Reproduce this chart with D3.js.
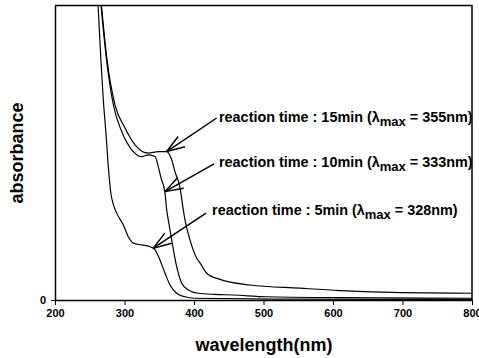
<!DOCTYPE html>
<html lang="en">
<head>
<meta charset="utf-8">
<title>absorbance vs wavelength</title>
<style>
  body { margin: 0; background: #fff; }
  svg text { font-family: "Liberation Sans", Arial, sans-serif; fill: #000; }
  .curve { fill: none; stroke: #000; stroke-width: 1.2px; }
  .frame { fill: none; stroke: #000; stroke-width: 1.5px; }
  .arrow { stroke: #000; stroke-width: 1.5px; fill: none; }
</style>
</head>
<body>
<svg id="chart" width="479" height="358"></svg>
<script src="https://d3js.org/d3.v7.min.js"></script>
<script>

// reaction time 5 min
var wl5  = [262, 266, 269.5, 273.4, 276.7, 280.6, 283.9, 288.8, 298.3, 305.5, 312.7, 324.7, 336.7, 343.9, 351, 358.3, 365.5, 375, 387, 401, 552, 800];
var abs5 = [1.0, 0.816, 0.68, 0.563, 0.453, 0.359, 0.325, 0.295, 0.255, 0.215, 0.193, 0.187, 0.181, 0.170, 0.136, 0.091, 0.051, 0.023, 0.011, 0.006, 0.003, 0.002];

// reaction time 10 min
var wl10  = [266.2, 274.1, 283.9, 296, 310.4, 324.7, 334.2, 343.9, 348.6, 352.5, 358.3, 360.7, 363, 367.9, 375.1, 382.3, 391.8, 406.2, 430.2, 456, 504.6, 610, 800];
var abs10 = [1.0, 0.816, 0.663, 0.572, 0.510, 0.487, 0.493, 0.487, 0.453, 0.415, 0.363, 0.306, 0.272, 0.204, 0.113, 0.057, 0.034, 0.023, 0.019, 0.017, 0.011, 0.008, 0.006];

// reaction time 15 min
var wl15  = [266.9, 274.8, 286.3, 300.7, 315.1, 334.2, 348.6, 360.7, 367.9, 372.7, 379.9, 384.6, 387, 394.2, 403.9, 408.6, 418.3, 437.4, 480.6, 552.5, 610, 698.8, 800];
var abs15 = [1.0, 0.816, 0.663, 0.584, 0.527, 0.499, 0.504, 0.504, 0.476, 0.435, 0.381, 0.306, 0.272, 0.204, 0.142, 0.126, 0.091, 0.070, 0.051, 0.040, 0.032, 0.025, 0.023];

var xTicks = [200, 300, 400, 500, 600, 700, 800];
var yTicks = [0];

var labels = ["reaction time : 15min (\u03bb", "reaction time : 10min (\u03bb", "reaction time : 5min (\u03bb"];
var labelTail = [" = 355nm)", " = 333nm)", " = 328nm)"];

var svg = d3.select("#chart");
var margin = {left: 55, right: 7, top: 5.5, bottom: 58};
var W = 479, H = 358;

var x = d3.scaleLinear().domain([200, 800]).range([margin.left, W - margin.right]);
var y = d3.scaleLinear().domain([0, 1]).range([H - margin.bottom, margin.top]);

svg.append("rect").attr("width", W).attr("height", H).attr("fill", "#fff");

svg.append("clipPath").attr("id", "clip")
  .append("rect")
  .attr("x", x(200)).attr("y", y(1))
  .attr("width", x(800) - x(200)).attr("height", y(0) - y(1));

var line = d3.line()
  .x(function(d) { return x(d[0]); })
  .y(function(d) { return y(d[1]); })
  .curve(d3.curveMonotoneX);

var series = [d3.zip(wl5, abs5), d3.zip(wl10, abs10), d3.zip(wl15, abs15)];

svg.append("g").attr("clip-path", "url(#clip)")
  .selectAll("path")
  .data(series)
  .enter().append("path")
  .attr("class", "curve")
  .attr("d", line);

// frame (top and right)
svg.append("path").attr("class", "frame")
  .attr("d", "M" + x(200) + "," + y(1) + "H" + x(800) + "V" + y(0));

// x axis
var xAxis = svg.append("g")
  .attr("transform", "translate(0," + y(0) + ")")
  .call(d3.axisBottom(x).tickValues(xTicks).tickSize(5).tickSizeOuter(0).tickPadding(4));
xAxis.select(".domain").attr("stroke-width", 1.5);
xAxis.selectAll("text").attr("font-size", "11px").attr("font-weight", "bold")
  .attr("font-family", "'Liberation Sans', Arial, sans-serif");

// y axis
var yAxis = svg.append("g")
  .attr("transform", "translate(" + x(200) + ",0)")
  .call(d3.axisLeft(y).tickValues(yTicks).tickFormat(d3.format("d")).tickSize(4).tickSizeOuter(0).tickPadding(5));
yAxis.select(".domain").attr("stroke-width", 1.5);
yAxis.selectAll("text").attr("font-size", "11px").attr("font-weight", "bold")
  .attr("font-family", "'Liberation Sans', Arial, sans-serif");

// axis titles
svg.append("text")
  .attr("x", 264).attr("y", 351)
  .attr("text-anchor", "middle")
  .attr("font-size", "18px").attr("font-weight", "bold")
  .text("wavelength(nm)");

svg.append("text")
  .attr("transform", "translate(23,153) rotate(-90)")
  .attr("text-anchor", "middle")
  .attr("font-size", "18px").attr("font-weight", "bold")
  .text("absorbance");

// annotations: text anchor, leader start, arrow tip (data coords)
var notes = [
  {tx: 436, ty: 0.604, sx: 432.6, sy: 0.618, ex: 360.7, ey: 0.504},
  {tx: 436, ty: 0.452, sx: 428.8, sy: 0.462, ex: 358.3, ey: 0.368},
  {tx: 426, ty: 0.289, sx: 417.3, sy: 0.295, ex: 341.4, ey: 0.176}
];

notes.forEach(function(n, i) {
  var x1 = x(n.sx), y1 = y(n.sy), x2 = x(n.ex), y2 = y(n.ey);
  svg.append("line").attr("class", "arrow")
    .attr("x1", x1).attr("y1", y1).attr("x2", x2).attr("y2", y2);
  var ang = Math.atan2(y1 - y2, x1 - x2), len = 19, spread = 0.33;
  [-spread, spread].forEach(function(s) {
    svg.append("line").attr("class", "arrow")
      .attr("x1", x2).attr("y1", y2)
      .attr("x2", x2 + len * Math.cos(ang + s))
      .attr("y2", y2 + len * Math.sin(ang + s));
  });

  var t = svg.append("text")
    .attr("x", x(n.tx)).attr("y", y(n.ty))
    .attr("font-size", "14.4px").attr("font-weight", "bold");
  t.append("tspan").text(labels[i]);
  t.append("tspan").attr("dy", 4).attr("font-size", "13px").text("max");
  t.append("tspan").attr("dy", -4).text(labelTail[i]);
});

</script>
</body>
</html>
